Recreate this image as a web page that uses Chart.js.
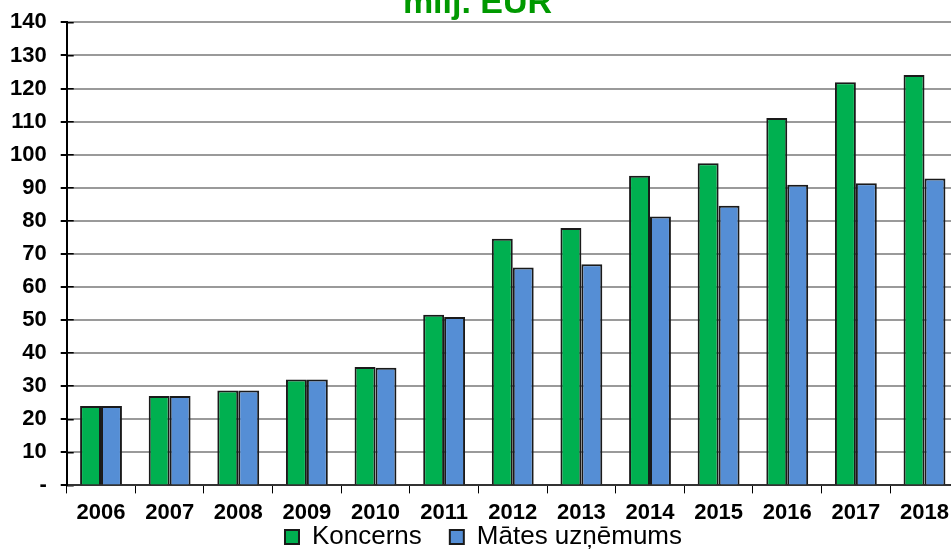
<!DOCTYPE html>
<html>
<head>
<meta charset="utf-8">
<script src="https://cdn.jsdelivr.net/npm/chart.js@4/dist/chart.umd.min.js"></script>
<style>
  html, body { margin: 0; padding: 0; background: #fff; overflow: hidden; width: 951px; height: 550px; }
  #wrap { position: absolute; left: 0; top: -16px; width: 960px; height: 615px; }
</style>
</head>
<body>
<div id="wrap"><canvas id="c" width="960" height="615"></canvas></div>
<script>
const years = ['2006','2007','2008','2009','2010','2011','2012','2013','2014','2015','2016','2017','2018'];
const koncerns = [24, 27, 28.7, 32, 35.8, 51.6, 74.6, 77.8, 93.6, 97.4, 111.1, 121.9, 124.1];
const matesUznemums = [24, 27, 28.7, 32, 35.6, 50.9, 65.9, 66.9, 81.3, 84.6, 90.9, 91.4, 92.8];
const seriesNames = ['Koncerns', 'Mātes uzņēmums'];
const titleText = 'milj. EUR';
const yMin = 0, yMax = 140, yStep = 10;

const FONT = "'Liberation Sans', Arial, sans-serif";

// pulls the bottom legend up, closer to the category labels
const legendShift = {
  id: 'legendShift',
  afterLayout(chart) {
    const lg = chart.legend;
    if (lg) { lg.top -= 37; lg.bottom -= 37; lg.left += 6; lg.right += 6; }
  }
};

new Chart(document.getElementById('c'), {
  type: 'bar',
  data: {
    labels: years,
    datasets: [
      { label: seriesNames[0], data: koncerns, backgroundColor: '#00B050', borderColor: '#1a1a1a', borderWidth: 2 },
      { label: seriesNames[1], data: matesUznemums, backgroundColor: '#558ED5', borderColor: '#1a1a1a', borderWidth: 2 }
    ]
  },
  plugins: [legendShift],
  options: {
    responsive: false,
    animation: false,
    devicePixelRatio: 1,
    layout: { padding: { left: -4, right: 1, top: 0, bottom: 2 } },
    datasets: { bar: { barPercentage: 1, categoryPercentage: 0.61 } },
    plugins: {
      title: {
        display: true, text: titleText, color: '#009900',
        font: { family: FONT, size: 34, weight: 'bold', lineHeight: 1.13 },
        padding: { top: 0, bottom: 0 }
      },
      legend: {
        display: true, position: 'bottom',
        labels: {
          color: '#000', boxWidth: 14, boxHeight: 14, padding: 28,
          font: { family: FONT, size: 26 }
        }
      },
      tooltip: { enabled: false }
    },
    scales: {
      x: {
        grid: { display: true, drawOnChartArea: false, drawTicks: true, tickLength: 8, tickColor: '#000', offset: true },
        border: { display: true, color: '#333', width: 2 },
        ticks: { color: '#000', font: { family: FONT, size: 22, weight: 'bold', lineHeight: 0.8 }, padding: 11, maxRotation: 0 }
      },
      y: {
        min: yMin, max: yMax, weight: 1,
        grid: { color: '#9a9a9a', lineWidth: 2, tickColor: '#000', tickLength: 6 },
        border: { display: true, color: '#000', width: 2 },
        ticks: {
          stepSize: yStep, color: '#000', padding: 14,
          font: { family: FONT, size: 22, weight: 'bold' },
          callback: v => v === 0 ? '-' : v
        }
      },
      yIn: {
        position: 'left', min: yMin, max: yMax, weight: 0,
        grid: { drawOnChartArea: false, drawTicks: true, tickLength: -7, tickColor: '#000', lineWidth: 1.5 },
        border: { display: false },
        ticks: { stepSize: yStep, display: false },
        afterFit: s => { s.width = 0; }
      }
    }
  }
});
</script>
</body>
</html>
